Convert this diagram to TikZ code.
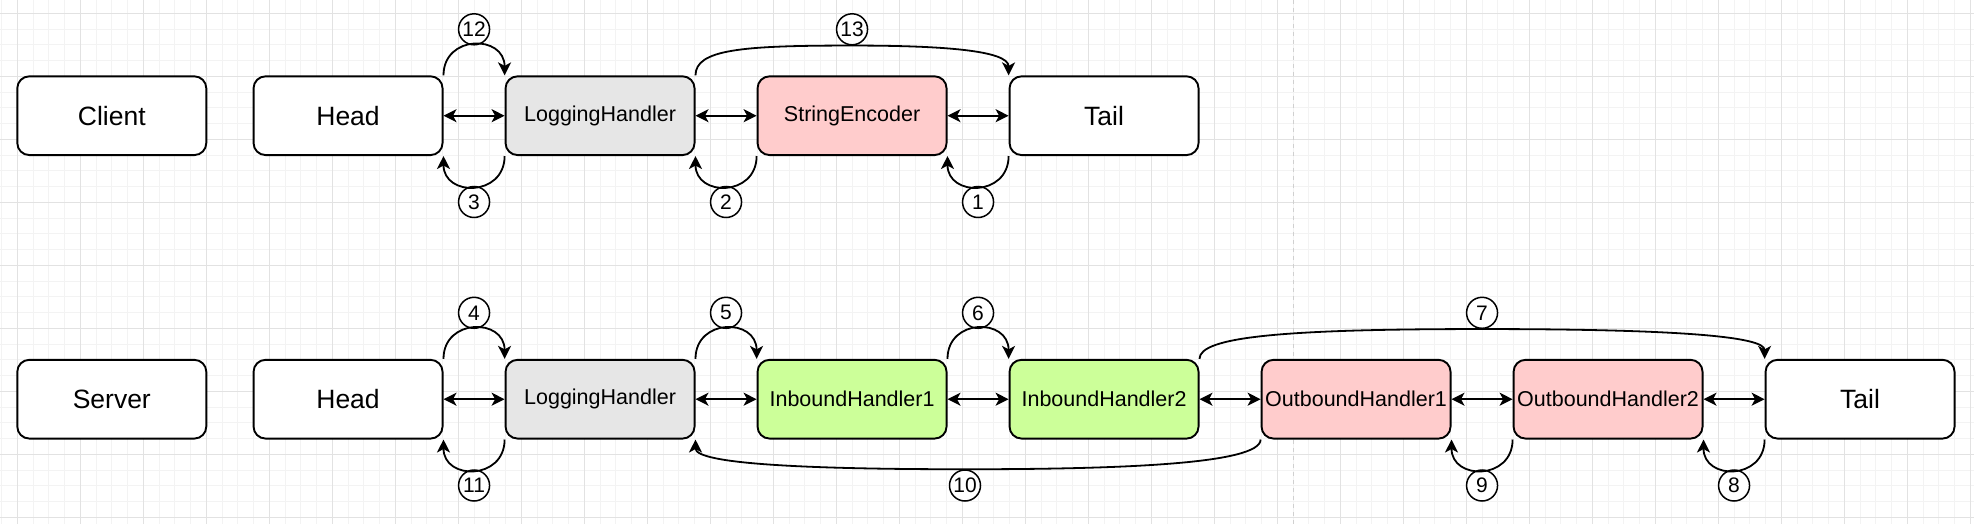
\documentclass[tikz,border=0pt]{standalone}
\usepackage{fontspec}
\setmainfont{Liberation Sans}
\usetikzlibrary{arrows.meta}
\definecolor{lhgray}{HTML}{E6E6E6}
\definecolor{pinkf}{HTML}{FFCCCC}
\definecolor{greenf}{HTML}{CCFF99}
\definecolor{gridminor}{HTML}{F3F3F3}
\definecolor{gridmajor}{HTML}{E2E2E2}
\definecolor{pagebrk}{HTML}{D0D0D0}
\tikzset{
  arr/.tip={Stealth[length=13pt,width=13pt,inset=3.5pt]},
  box/.style={draw=black, line width=1.9pt, rounded corners=12pt, minimum width=189pt,
    minimum height=78.75pt, inner sep=0pt, fill=white, font=\fontsize{26.5}{30}\selectfont},
  hbox/.style={box, font=\fontsize{21.5}{25}\selectfont},
  num/.style={circle, draw=black, line width=1.5pt, minimum size=31pt, inner sep=0pt,
    fill=white, font=\fontsize{21}{23}\selectfont},
  conn/.style={line width=1.8pt, -arr},
  both/.style={line width=1.8pt, arr-arr},
  gminor/.style={gridminor, line width=1pt},
  gmajor/.style={gridmajor, line width=1.2pt},
}
\begin{document}
\begin{tikzpicture}[x=1pt,y=-1pt]
\useasboundingbox (0,0) rectangle (1974,524);
\fill[white] (0,0) rectangle (1974,524);
% grid
\foreach \i in {0,...,125} \draw[gminor] ({1.55+15.75*\i},0) -- ({1.55+15.75*\i},524);
\foreach \j in {0,...,32} \draw[gminor] (0,{13.3+15.75*\j}) -- (1974,{13.3+15.75*\j});
\foreach \i in {0,...,31} \draw[gmajor] ({17.3+63*\i},0) -- ({17.3+63*\i},524);
\foreach \j in {0,...,8} \draw[gmajor] (0,{13.3+63*\j}) -- (1974,{13.3+63*\j});
\draw[pagebrk, line width=1.5pt, dash pattern=on 4pt off 4pt] (1293.3,0) -- (1293.3,524);

% row 1
\node[box] (client) at (111.8,115.7) {Client};
\node[box] (head1) at (348.05,115.7) {Head};
\node[hbox, fill=lhgray] (lh1) at (600.05,115.7) {LoggingHandler};
\node[hbox, fill=pinkf] (se) at (852.05,115.7) {StringEncoder};
\node[box] (tail1) at (1104.05,115.7) {Tail};

% row 2
\node[box] (server) at (111.8,399.2) {Server};
\node[box] (head2) at (348.05,399.2) {Head};
\node[hbox, fill=lhgray] (lh2) at (600.05,399.2) {LoggingHandler};
\node[hbox, fill=greenf] (ih1) at (852.05,399.2) {InboundHandler1};
\node[hbox, fill=greenf] (ih2) at (1104.05,399.2) {InboundHandler2};
\node[hbox, fill=pinkf] (oh1) at (1356.05,399.2) {OutboundHandler1};
\node[hbox, fill=pinkf] (oh2) at (1608.05,399.2) {OutboundHandler2};
\node[box] (tail2) at (1860.05,399.2) {Tail};

% number circles
\node[num] (c12) at (474.05,29.3) {12};
\node[num] (c13) at (852.05,29.3) {13};
\node[num] (c3) at (474.05,202) {3};
\node[num] (c2) at (726.05,202) {2};
\node[num] (c1) at (978.05,202) {1};
\node[num] (c4) at (474.05,312.8) {4};
\node[num] (c5) at (726.05,312.8) {5};
\node[num] (c6) at (978.05,312.8) {6};
\node[num] (c7) at (1482.05,312.8) {7};
\node[num] (c11) at (474.05,485.5) {11};
\node[num] (c10) at (965,485.5) {10};
\node[num] (c9) at (1482.05,485.5) {9};
\node[num] (c8) at (1734.05,485.5) {8};

% row 1 links
\draw[both] (head1.east) -- (lh1.west);
\draw[both] (lh1.east) -- (se.west);
\draw[both] (se.east) -- (tail1.west);
\draw[conn] (head1.north east) .. controls +(0,-41) and +(0,-41) .. (lh1.north west);
\draw[conn] (lh1.south west) .. controls +(0,41) and +(0,41) .. (head1.south east);
\draw[conn] (se.south west) .. controls +(0,41) and +(0,41) .. (lh1.south east);
\draw[conn] (tail1.south west) .. controls +(0,41) and +(0,41) .. (se.south east);
\draw[conn] (lh1.north east) .. controls +(0,-26) and +(-110,0) .. (c13.south)
  .. controls +(90,0) and +(0,-25) .. (tail1.north west);

% row 2 links
\draw[both] (head2.east) -- (lh2.west);
\draw[both] (lh2.east) -- (ih1.west);
\draw[both] (ih1.east) -- (ih2.west);
\draw[both] (ih2.east) -- (oh1.west);
\draw[both] (oh1.east) -- (oh2.west);
\draw[both] (oh2.east) -- (tail2.west);
\draw[conn] (head2.north east) .. controls +(0,-41) and +(0,-41) .. (lh2.north west);
\draw[conn] (lh2.north east) .. controls +(0,-41) and +(0,-41) .. (ih1.north west);
\draw[conn] (ih1.north east) .. controls +(0,-41) and +(0,-41) .. (ih2.north west);
\draw[conn] (lh2.south west) .. controls +(0,41) and +(0,41) .. (head2.south east);
\draw[conn] (oh2.south west) .. controls +(0,41) and +(0,41) .. (oh1.south east);
\draw[conn] (tail2.south west) .. controls +(0,41) and +(0,41) .. (oh2.south east);
\draw[conn] (ih2.north east) .. controls +(0,-22) and +(-200,0) .. (c7.south)
  .. controls +(200,0) and +(0,-22) .. (tail2.north west);
\draw[conn] (oh1.south west) .. controls +(0,25) and +(150,0) .. (c10.north)
  .. controls +(-150,0) and +(0,25) .. (lh2.south east);
\end{tikzpicture}
\end{document}
